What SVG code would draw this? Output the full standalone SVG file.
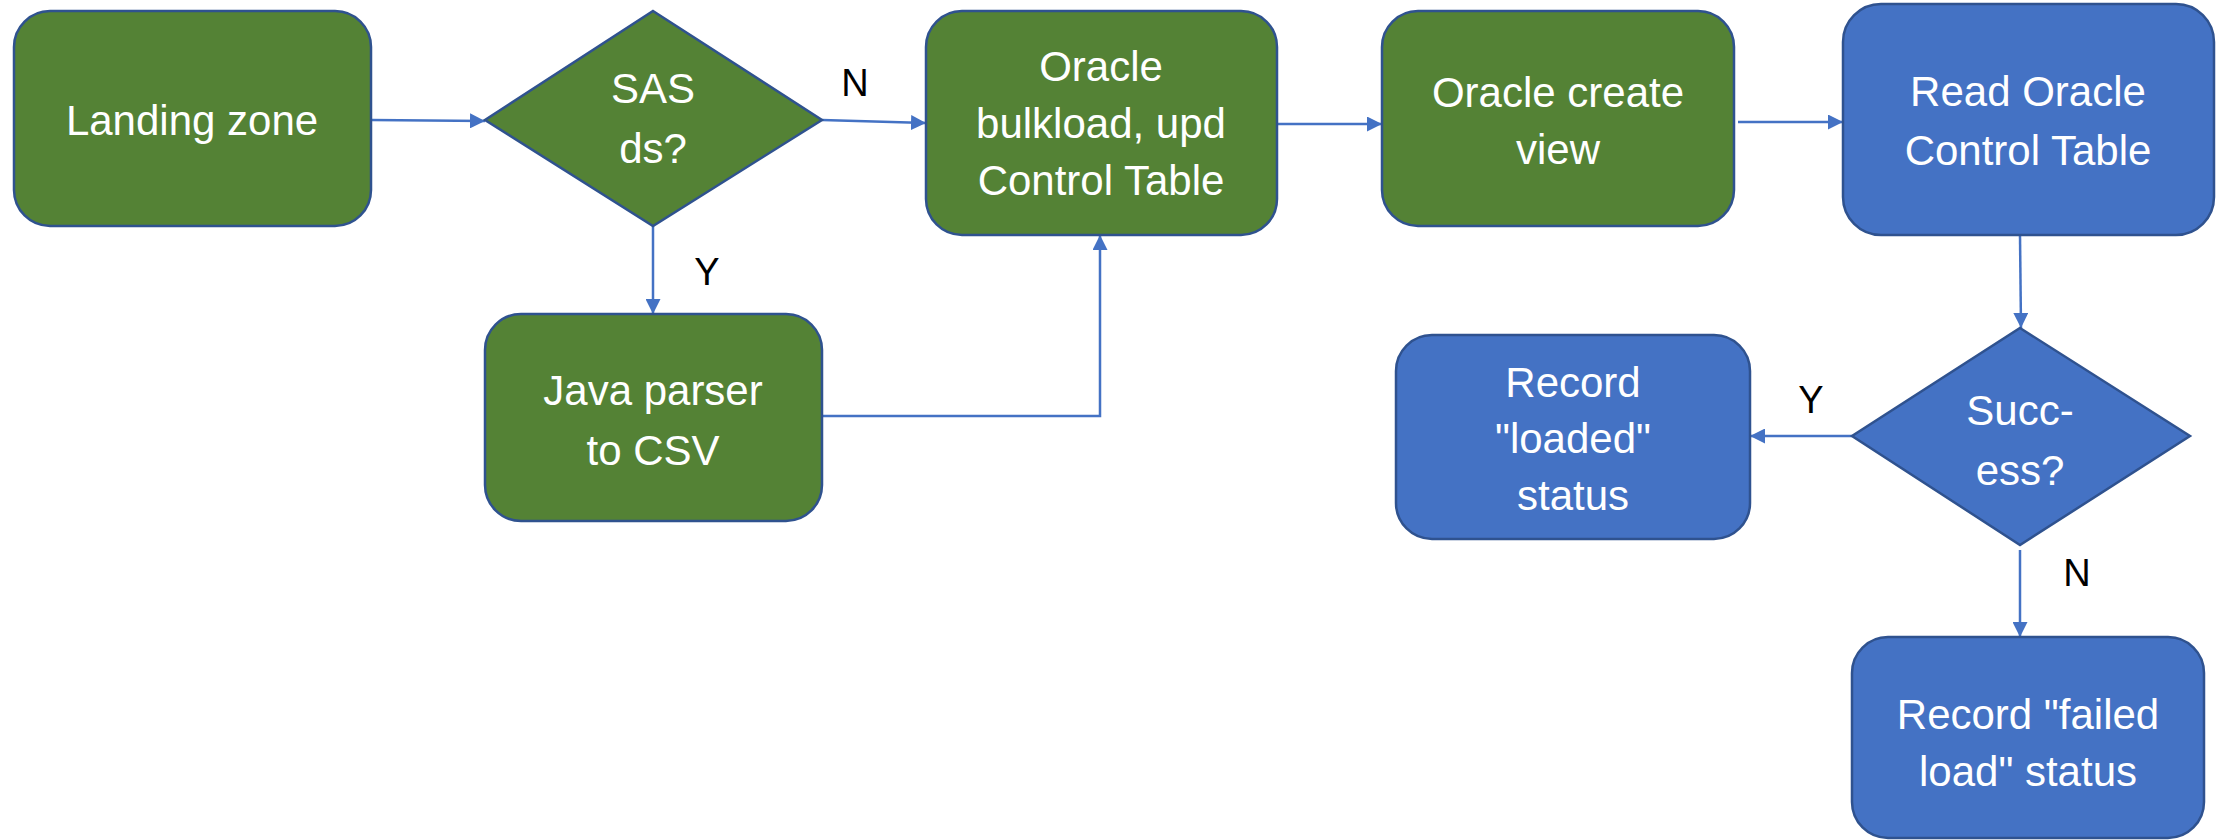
<svg xmlns="http://www.w3.org/2000/svg" width="2218" height="840" viewBox="0 0 2218 840">
<style>
.g{fill:#548235;stroke:#2F528F;stroke-width:2.5}
.b{fill:#4472C4;stroke:#2F528F;stroke-width:2.5}
.t{font-family:"Liberation Sans",Arial,sans-serif;font-size:42px;fill:#fff;text-anchor:middle}
.l{font-family:"Liberation Sans",Arial,sans-serif;font-size:38px;fill:#000;text-anchor:middle}
.c{fill:none;stroke:#4472C4;stroke-width:2.5;marker-end:url(#ah)}
</style>
<defs>
<marker id="ah" viewBox="0 0 10 10" refX="10" refY="5" markerWidth="6" markerHeight="6" markerUnits="strokeWidth" orient="auto">
<path d="M0,0 L10,5 L0,10 z" fill="#4472C4"/>
</marker>
</defs>
<rect width="2218" height="840" fill="#fff"/>
<g id="connectors">
<path class="c" d="M371,120 L485,121"/>
<path class="c" d="M822,120 L926,123"/>
<path class="c" d="M653,226 L653,314"/>
<path class="c" d="M822,416 L1100,416 L1100,235"/>
<path class="c" d="M1277,124 L1382,124"/>
<path class="c" d="M1738,122 L1843,122"/>
<path class="c" d="M2020,235 L2021,328"/>
<path class="c" d="M1852,436 L1750,436"/>
<path class="c" d="M2020,550 L2020,637"/>
<text class="l" x="855" y="96">N</text>
<text class="l" x="707" y="285">Y</text>
<text class="l" x="1811" y="413">Y</text>
<text class="l" x="2077" y="586">N</text>
</g>
<g id="landing">
<rect class="g" x="14" y="11" width="357" height="215" rx="36"/>
<text class="t" x="192" y="135">Landing zone</text>
</g>
<g id="sas">
<polygon class="g" points="653,11 822,120 653,226 485,120"/>
<text class="t" x="653" y="103">SAS</text>
<text class="t" x="653" y="163">ds?</text>
</g>
<g id="bulkload">
<rect class="g" x="926" y="11" width="351" height="224" rx="36"/>
<text class="t" x="1101" y="81">Oracle</text>
<text class="t" x="1101" y="138">bulkload, upd</text>
<text class="t" x="1101" y="195">Control Table</text>
</g>
<g id="createview">
<rect class="g" x="1382" y="11" width="352" height="215" rx="36"/>
<text class="t" x="1558" y="107">Oracle create</text>
<text class="t" x="1558" y="164">view</text>
</g>
<g id="readctl">
<rect class="b" x="1843" y="4" width="371" height="231" rx="38"/>
<text class="t" x="2028" y="106">Read Oracle</text>
<text class="t" x="2028" y="165">Control Table</text>
</g>
<g id="java">
<rect class="g" x="485" y="314" width="337" height="207" rx="36"/>
<text class="t" x="653" y="405">Java parser</text>
<text class="t" x="653" y="465">to CSV</text>
</g>
<g id="success">
<polygon class="b" points="2020,328 2190,436 2020,545 1852,436"/>
<text class="t" x="2020" y="425">Succ-</text>
<text class="t" x="2020" y="485">ess?</text>
</g>
<g id="loaded">
<rect class="b" x="1396" y="335" width="354" height="204" rx="36"/>
<text class="t" x="1573" y="397">Record</text>
<text class="t" x="1573" y="453">"loaded"</text>
<text class="t" x="1573" y="510">status</text>
</g>
<g id="failed">
<rect class="b" x="1852" y="637" width="352" height="201" rx="36"/>
<text class="t" x="2028" y="729">Record "failed</text>
<text class="t" x="2028" y="786">load" status</text>
</g>
</svg>
